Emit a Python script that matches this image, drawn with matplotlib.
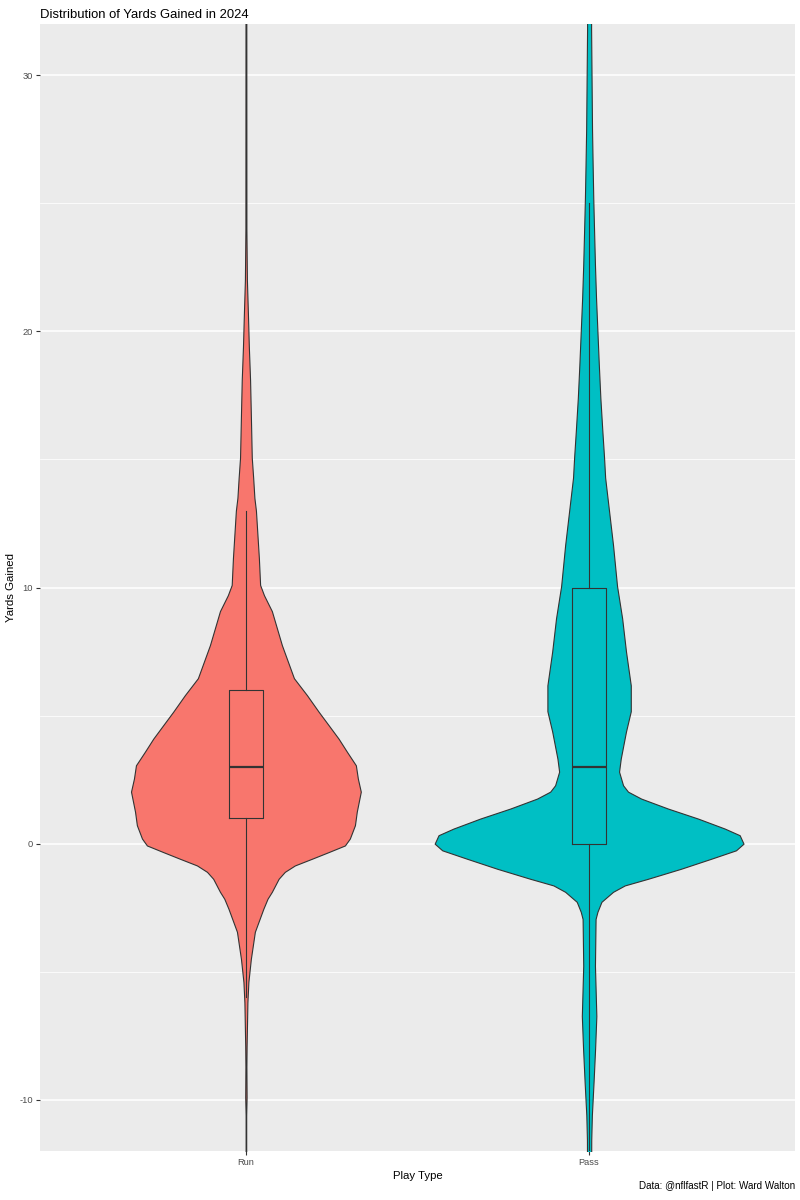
import numpy as np
import matplotlib.pyplot as plt

plt.rcParams['font.family'] = ['Liberation Sans', 'DejaVu Sans']
plt.rcParams['axes.unicode_minus'] = False

categories = ["Run", "Pass"]
fills = ["#F8766D", "#00BFC4"]

# violin profiles: yards -> relative density (Pass max = 1)
run_y = [-13.0, -10.6, -9.9, -8.7, -7.9, -6.2, -5.4, -4.5, -3.44, -2.54, -2.15, -1.88,
         -1.37, -1.1, -0.85, -0.59, -0.33, -0.07, 0.2, 0.72, 1.25, 2.03, 2.54, 3.06,
         3.59, 4.1, 4.63, 5.15, 5.8, 6.46, 7.75, 9.08, 9.7, 10.1, 11.15, 13.0, 13.5,
         14.29, 15.07, 16.75, 18.1, 19.4, 20.7, 22.0, 24.0, 33.0]
run_d = [0.0019, 0.0019, 0.0045, 0.0032, 0.0045, 0.0097, 0.016, 0.032, 0.058, 0.113, 0.14, 0.168,
         0.212, 0.252, 0.317, 0.427, 0.535, 0.641, 0.673, 0.706, 0.718, 0.744, 0.725, 0.712,
         0.654, 0.6, 0.535, 0.471, 0.395, 0.311, 0.233, 0.168, 0.117, 0.092, 0.084, 0.065, 0.055,
         0.047, 0.038, 0.032, 0.027, 0.019, 0.013, 0.0065, 0.0032, 0.0026]

pass_y = [-13.0, -11.55, -10.6, -9.3, -8.0, -6.73, -4.77, -2.94, -2.66, -2.27, -1.88, -1.63,
          -1.37, -0.98, -0.59, -0.26, 0.0, 0.33, 0.59, 0.98, 1.37, 1.76, 2.03, 2.28, 2.81,
          3.32, 4.38, 5.17, 6.18, 7.5, 8.8, 10.06, 11.66, 13.0, 14.29, 15.07, 16.1, 17.4,
          18.7, 20.0, 21.3, 22.6, 24.0, 25.2, 26.5, 27.9, 29.2, 30.5, 31.8, 33.0]
pass_d = [0.013, 0.014, 0.018, 0.029, 0.039, 0.047, 0.038, 0.042, 0.054, 0.08, 0.155, 0.231,
          0.382, 0.595, 0.79, 0.951, 1.0, 0.975, 0.878, 0.705, 0.511, 0.337, 0.252, 0.22, 0.194,
          0.205, 0.239, 0.27, 0.27, 0.239, 0.214, 0.181, 0.155, 0.129, 0.104, 0.097, 0.086, 0.073,
          0.063, 0.054, 0.045, 0.038, 0.032, 0.027, 0.023, 0.019, 0.017, 0.015, 0.013, 0.013]

# boxplot stats (yards)
q1 = [1, 0]
med = [3, 3]
q3 = [6, 10]
whis_lo = [-6, -13]
whis_hi = [13, 25]

fig = plt.figure(figsize=(8, 12), dpi=100)
ax = fig.add_axes([0.05, 0.0408, 0.94375, 0.9392])
ax.set_facecolor("#EBEBEB")
for s in ax.spines.values():
    s.set_visible(False)

ax.set_ylim(-12, 32)
ax.set_xlim(0.4, 2.6)
ax.set_yticks([-10, 0, 10, 20, 30])
ax.set_yticks([-5, 5, 15, 25], minor=True)
ax.grid(True, which="major", axis="y", color="white", linewidth=1.1)
ax.grid(True, which="minor", axis="y", color="white", linewidth=0.55)
ax.set_axisbelow(True)

profiles = [(run_y, run_d), (pass_y, pass_d)]
for i, (yy, dd) in enumerate(profiles):
    pos = i + 1
    hw = np.array(dd) * 0.45
    ax.fill_betweenx(yy, pos - hw, pos + hw, facecolor=fills[i], edgecolor="#333333",
                     linewidth=0.8, zorder=2)

stats = []
for i, c in enumerate(categories):
    stats.append(dict(label=c, q1=q1[i], med=med[i], q3=q3[i],
                      whislo=whis_lo[i], whishi=whis_hi[i]))
ax.bxp(stats, positions=[1, 2], widths=0.1, showfliers=False, showcaps=False,
       boxprops=dict(color="#333333", linewidth=0.8),
       whiskerprops=dict(color="#333333", linewidth=0.8),
       medianprops=dict(color="#333333", linewidth=1.6),
       zorder=3)

ax.set_xticks([1, 2])
ax.set_xticklabels(categories)
ax.tick_params(axis="both", which="major", length=3, width=0.8, color="#333333",
               labelcolor="#4D4D4D", labelsize=6.7, pad=2)
ax.tick_params(axis="both", which="minor", length=0)
ax.set_ylabel("Yards Gained", fontsize=8.2, va="center")
ax.yaxis.set_label_coords(-0.0384, 0.5)
ax.set_xlabel("Play Type", fontsize=8.2, labelpad=3)
ax.set_title("Distribution of Yards Gained in 2024", loc="left", fontsize=9.4, pad=4)
fig.text(0.99375, 0.0075, "Data: @nflfastR | Plot: Ward Walton", ha="right", va="bottom",
         fontsize=7.1)

fig.savefig("out.png", dpi=100)
